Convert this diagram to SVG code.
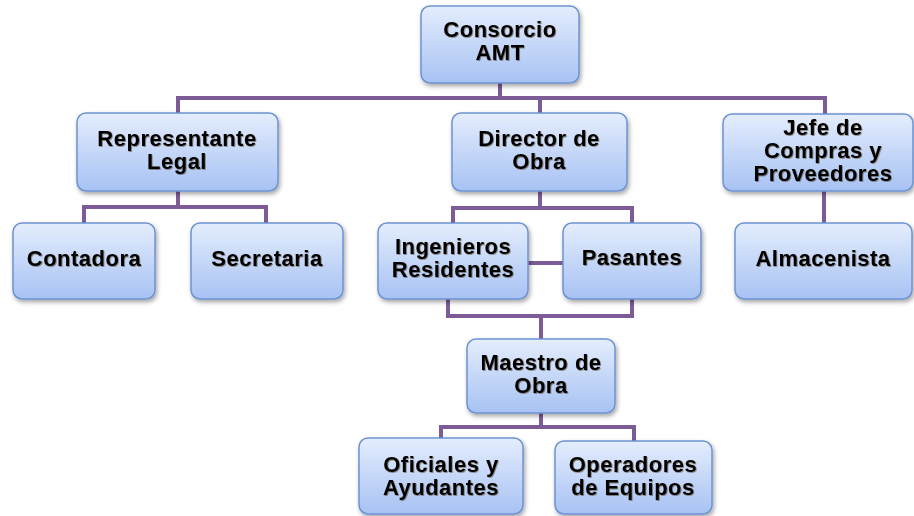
<svg xmlns="http://www.w3.org/2000/svg" width="914" height="516" viewBox="0 0 914 516">
<defs>
<linearGradient id="g" x1="0" y1="0" x2="0" y2="1">
<stop offset="0" stop-color="#e4edfd"/>
<stop offset="1" stop-color="#a7c2f3"/>
</linearGradient>
<filter id="sh" x="-10%" y="-10%" width="130%" height="140%">
<feDropShadow dx="1.5" dy="2.5" stdDeviation="2" flood-color="#000" flood-opacity="0.35"/>
</filter>
<filter id="ts" x="-5%" y="-20%" width="110%" height="140%">
<feDropShadow dx="0.8" dy="0.8" stdDeviation="0.5" flood-color="#3a2a10" flood-opacity="0.6"/>
</filter>
</defs>
<style>
.box{fill:url(#g);stroke:#6d92d2;stroke-width:1.5;filter:url(#sh)}
.t{font-family:"Liberation Sans",Arial,sans-serif;font-weight:bold;font-size:22px;letter-spacing:0.5px;fill:#000;text-anchor:middle;filter:url(#ts)}
.c{fill:none;stroke:#7c5b96;stroke-width:4;stroke-linejoin:miter}
</style>
<rect width="914" height="516" fill="#fff"/>
<g id="connectors">
<path class="c" d="M500 83V98M178 113V98H825V114M540 98V113"/>
<path class="c" d="M178 191V207H84V223M178 207H266V223"/>
<path class="c" d="M540 191V208H453V223M540 208H632V223"/>
<path class="c" d="M528 263H563"/>
<path class="c" d="M448 299V316H632V299M541 316V339"/>
<path class="c" d="M541 413V427H441V438M541 427H634V441"/>
<path class="c" d="M824 191V223"/>
</g>
<g id="consorcio"><rect class="box" x="421" y="6" width="158" height="77" rx="9"/><text class="t" x="500" y="37">Consorcio</text><text class="t" x="500" y="60">AMT</text></g>
<g id="representante"><rect class="box" x="77" y="113" width="201" height="78" rx="9"/><text class="t" x="177" y="146">Representante</text><text class="t" x="177" y="169">Legal</text></g>
<g id="director"><rect class="box" x="452" y="113" width="175" height="78" rx="9"/><text class="t" x="539" y="146">Director de</text><text class="t" x="539" y="169">Obra</text></g>
<g id="jefe"><rect class="box" x="723" y="114" width="190" height="77" rx="9"/><text class="t" x="823" y="135">Jefe de</text><text class="t" x="823" y="158">Compras y</text><text class="t" x="823" y="181">Proveedores</text></g>
<g id="contadora"><rect class="box" x="13" y="223" width="142" height="76" rx="9"/><text class="t" x="84" y="266">Contadora</text></g>
<g id="secretaria"><rect class="box" x="191" y="223" width="152" height="76" rx="9"/><text class="t" x="267" y="266">Secretaria</text></g>
<g id="ingenieros"><rect class="box" x="378" y="223" width="150" height="76" rx="9"/><text class="t" x="453" y="254">Ingenieros</text><text class="t" x="453" y="277">Residentes</text></g>
<g id="pasantes"><rect class="box" x="563" y="223" width="138" height="76" rx="9"/><text class="t" x="632" y="265">Pasantes</text></g>
<g id="almacenista"><rect class="box" x="735" y="223" width="177" height="76" rx="9"/><text class="t" x="823" y="266">Almacenista</text></g>
<g id="maestro"><rect class="box" x="467" y="339" width="148" height="74" rx="9"/><text class="t" x="541" y="370">Maestro de</text><text class="t" x="541" y="393">Obra</text></g>
<g id="oficiales"><rect class="box" x="359" y="438" width="164" height="76" rx="9"/><text class="t" x="441" y="472">Oficiales y</text><text class="t" x="441" y="495">Ayudantes</text></g>
<g id="operadores"><rect class="box" x="555" y="441" width="157" height="73" rx="9"/><text class="t" x="633" y="472">Operadores</text><text class="t" x="633" y="495">de Equipos</text></g>
</svg>
